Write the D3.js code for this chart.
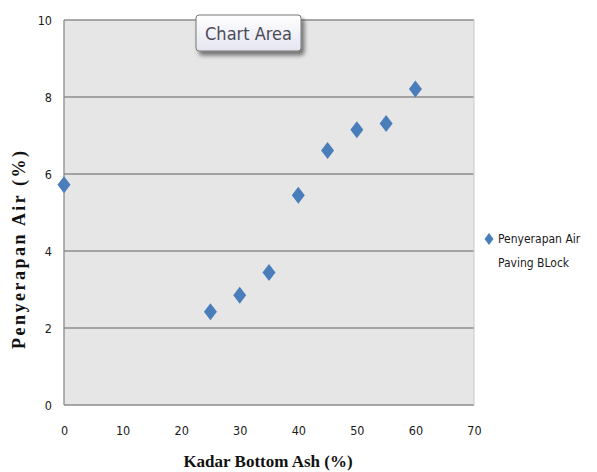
<!DOCTYPE html>
<html><head><meta charset="utf-8">
<script src="https://cdn.jsdelivr.net/npm/d3@7"></script>
<style>body{margin:0;background:#fff}svg{display:block}</style>
</head><body>
<svg id="c" width="597" height="472"></svg>
<script>
const xValues = [0, 25, 30, 35, 40, 45, 50, 55, 60];
const yValues = [5.72, 2.42, 2.85, 3.44, 5.45, 6.61, 7.15, 7.31, 8.21];
const xTicks = [0, 10, 20, 30, 40, 50, 60, 70];
const yTicks = [0, 2, 4, 6, 8, 10];
const seriesName = ["Penyerapan Air", "Paving BLock"];
const xTitle = "Kadar Bottom Ash (%)";
const yTitle = "Penyerapan Air (%)";

const svg = d3.select("#c");
const L = 64, R = 474, T = 20, B = 405;
const x = d3.scaleLinear().domain([0, 70]).range([L, R]);
const y = d3.scaleLinear().domain([0, 10]).range([B, T]);
const tickFont = "'DejaVu Sans Condensed', 'DejaVu Sans', sans-serif";

svg.append("rect").attr("x", L).attr("y", T).attr("width", R - L).attr("height", B - T)
  .attr("fill", "#e6e6e6");

// gridlines
svg.append("g").selectAll("line").data(yTicks.filter(d => d > 0)).join("line")
  .attr("x1", L).attr("x2", R).attr("y1", d => y(d)).attr("y2", d => y(d))
  .attr("stroke", "#8c8c8c").attr("stroke-width", 1.3);

// axes lines
svg.append("line").attr("x1", L).attr("x2", L).attr("y1", T).attr("y2", B).attr("stroke", "#8c8c8c").attr("stroke-width", 1.3);
svg.append("line").attr("x1", L).attr("x2", R).attr("y1", B).attr("y2", B).attr("stroke", "#8c8c8c").attr("stroke-width", 1.3);
svg.append("line").attr("x1", R).attr("x2", R).attr("y1", T).attr("y2", B).attr("stroke", "#c8c8c8").attr("stroke-width", 1);

// y axis ticks labels
const yAxis = d3.axisLeft(y).tickValues(yTicks).tickSize(0).tickPadding(0).tickFormat(d3.format("d"));
const gy = svg.append("g").attr("transform", `translate(${L - 12},0)`).call(yAxis);
gy.select(".domain").remove();
gy.selectAll("text").attr("font-family", tickFont).attr("font-size", 12.5).attr("fill", "#1a1a1a").attr("dy", "0.35em");

const xAxis = d3.axisBottom(x).tickValues(xTicks).tickSize(0).tickPadding(0).tickFormat(d3.format("d"));
const gx = svg.append("g").attr("transform", `translate(0,${B + 26})`).call(xAxis);
gx.select(".domain").remove();
gx.selectAll("text").attr("font-family", tickFont).attr("font-size", 12.5).attr("fill", "#1a1a1a").attr("dy", "0.35em");

// markers
const diamond = "M0,-8.5L6.5,0L0,8.5L-6.5,0Z";
svg.append("g").selectAll("path").data(xValues.map((v, i) => [v, yValues[i]])).join("path")
  .attr("d", diamond)
  .attr("transform", d => `translate(${x(d[0])},${y(d[1])})`)
  .attr("fill", "#4a7ebb");

// axis titles
svg.append("text").attr("x", 268).attr("y", 467).attr("text-anchor", "middle")
  .attr("font-family", "'Liberation Serif', 'Times New Roman', serif").attr("font-weight", "bold")
  .attr("font-size", 17).attr("fill", "#111").text(xTitle);
svg.append("text").attr("transform", "translate(25,250) rotate(-90)").attr("text-anchor", "middle")
  .attr("font-family", "'Liberation Serif', 'Times New Roman', serif").attr("font-weight", "bold")
  .attr("font-size", 18).attr("fill", "#111")
  .attr("textLength", 198).attr("lengthAdjust", "spacing").text(yTitle);

// legend
svg.append("path").attr("d", "M0,-6L4.5,0L0,6L-4.5,0Z").attr("transform", "translate(489,239)").attr("fill", "#4a7ebb");
svg.append("g").selectAll("text").data(seriesName).join("text")
  .attr("x", 498).attr("y", (d, i) => 243 + i * 24)
  .attr("font-family", tickFont).attr("font-size", 12).attr("fill", "#1a1a1a").text(d => d);

// Chart Area tooltip
const defs = svg.append("defs");
const f = defs.append("filter").attr("id", "sh").attr("x", "-20%").attr("y", "-20%").attr("width", "150%").attr("height", "170%");
f.append("feGaussianBlur").attr("in", "SourceAlpha").attr("stdDeviation", 2);
f.append("feOffset").attr("dx", 3).attr("dy", 4).attr("result", "b");
f.append("feComponentTransfer").append("feFuncA").attr("type", "linear").attr("slope", 0.5);
const m = f.append("feMerge"); m.append("feMergeNode"); m.append("feMergeNode").attr("in", "SourceGraphic");
const g2 = defs.append("linearGradient").attr("id", "tg").attr("x1", 0).attr("y1", 0).attr("x2", 0).attr("y2", 1);
g2.append("stop").attr("offset", 0).attr("stop-color", "#ffffff");
g2.append("stop").attr("offset", 1).attr("stop-color", "#e4e5f0");
svg.append("rect").attr("x", 196).attr("y", 15).attr("width", 105).attr("height", 36).attr("rx", 3)
  .attr("fill", "url(#tg)").attr("stroke", "#777").attr("stroke-width", 1).attr("filter", "url(#sh)");
svg.append("text").attr("x", 248.5).attr("y", 39.5).attr("text-anchor", "middle")
  .attr("font-family", tickFont).attr("font-size", 18).attr("fill", "#4a4a58").text("Chart Area");
</script>
</body></html>
